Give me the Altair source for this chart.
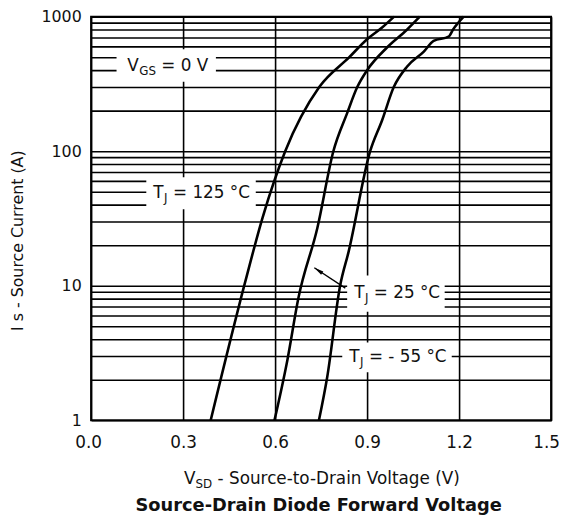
import altair as alt
import pandas as pd

# ---------------- data ----------------
series_names = ["TJ = 125 °C", "TJ = 25 °C", "TJ = -55 °C"]

v_125 = [0.39, 0.504, 0.559, 0.633, 0.744, 0.842, 0.90, 0.949, 0.988]
i_125 = [1, 11, 32, 100, 300, 500, 680, 830, 1000]

v_25 = [0.598, 0.64, 0.676, 0.738, 0.79, 0.835, 0.868, 0.90, 0.965, 1.03, 1.072]
i_25 = [1, 2.8, 8.1, 27, 100, 192, 300, 400, 590, 800, 1000]

v_m55 = [0.743, 0.77, 0.812, 0.84, 0.91, 0.949, 0.987, 1.03, 1.085, 1.117, 1.166, 1.18, 1.215]
i_m55 = [1, 2.1, 10, 18, 100, 170, 300, 425, 550, 660, 710, 800, 1000]

x_ticks = [0.0, 0.3, 0.6, 0.9, 1.2, 1.5]
y_grid = [1, 2, 3, 4, 5, 6, 7, 8, 9,
          10, 20, 30, 40, 50, 60, 70, 80, 90,
          100, 200, 300, 400, 500, 600, 700, 800, 900, 1000]
y_labels = [1, 10, 100, 1000]

# annotation labels (data coordinates of left edge / vertical centre)
label_main = ["V", "T", "T", "T"]
label_sub = ["GS", "J", "J", "J"]
label_rest = ["= 0 V", "= 125 °C", "= 25 °C", "= - 55 °C"]
label_v = [0.118, 0.203, 0.858, 0.842]
label_i = [430, 49, 8.8, 2.94]

# white boxes behind the labels (data coordinates)
box_v1 = [0.083, 0.18, 0.835, 0.819]
box_v2 = [0.407, 0.537, 1.153, 1.176]
box_i1 = [328, 37, 6.4, 2.28]
box_i2 = [573, 64, 11.9, 3.78]

# arrow from the 25 °C label to its curve
arrow_v_tail = [0.829]
arrow_i_tail = [9.6]
arrow_v_tip = [0.728]
arrow_i_tip = [13.6]

x_title_main = "V"
x_title_sub = "SD"
x_title_rest = "- Source-to-Drain Voltage (V)"
y_title = "I s - Source Current (A)"
chart_title = "Source-Drain Diode Forward Voltage"

# ---------------- styling ----------------
FONT = "DejaVu Sans"
INK = "#111111"
W, H = 465, 408
BIG, SMALL = 17, 12
CHAR_W = {"T": 0.611, "V": 0.684, "J": 0.295, "G": 0.775, "S": 0.635, "D": 0.77, " ": 0.318}


def text_w(s, size):
    return sum(CHAR_W.get(c, 0.6) for c in s) * size


rows = []
for name, vs, iss in zip(series_names, [v_125, v_25, v_m55], [i_125, i_25, i_m55]):
    for k, (v, i) in enumerate(zip(vs, iss)):
        rows.append({"series": name, "k": k, "v": v, "i": i})
curves = pd.DataFrame(rows)

boxes = pd.DataFrame({"v1": box_v1, "v2": box_v2, "i1": box_i1, "i2": box_i2})
arrow = pd.DataFrame({"vt": arrow_v_tail, "it": arrow_i_tail,
                      "vh": arrow_v_tip, "ih": arrow_i_tip})

xscale = alt.Scale(domain=[0, 1.5], nice=False, zero=False)
yscale = alt.Scale(type="log", domain=[1, 1000], nice=False)

x_axis = alt.Axis(
    values=x_ticks, format=".1f", grid=True, gridColor="#000000", gridWidth=1.6,
    ticks=False, domain=False, labelFont=FONT, labelFontSize=BIG, labelColor=INK,
    labelPadding=15, labelFlush=False, labelOverlap=False, title=None,
    labelOffset={"condition": [{"test": "datum.value == 1.5", "value": -5},
                               {"test": "datum.value == 0", "value": -3}],
                 "value": 0},
)
y_axis = alt.Axis(
    values=y_grid,
    labelExpr="indexof(%s, datum.value) >= 0 ? format(datum.value, 'd') : ''" % str(y_labels),
    grid=True, gridColor="#000000", gridWidth=1.6, ticks=False, domain=False,
    labelFont=FONT, labelFontSize=16, labelColor=INK, labelPadding=10,
    labelOverlap=False, labelFlush=False,
    title=y_title, titleFont=FONT, titleFontSize=16, titleFontWeight="normal",
    titleColor=INK, titleAngle=-90, titleX=-74, titleY=226,
    titleAlign="center", titleBaseline="middle",
)

X = lambda f: alt.X(f, type="quantitative", scale=xscale, axis=x_axis)
Y = lambda f: alt.Y(f, type="quantitative", scale=yscale, axis=y_axis)

rects = alt.Chart(boxes).mark_rect(color="white").encode(
    x=X("v1"), x2="v2", y=Y("i1"), y2="i2"
)

lines = alt.Chart(curves).mark_line(
    color="black", strokeWidth=2.6, interpolate="monotone"
).encode(x=X("v"), y=Y("i"), detail="series:N", order="k:Q")

arrow_line = alt.Chart(arrow).mark_rule(color="black", strokeWidth=1.4).encode(
    x=X("vt"), x2="vh", y=Y("it"), y2="ih"
)
arrow_head = alt.Chart(arrow).mark_point(
    shape="M0,0L0.5,2.4L-0.5,2.4Z", filled=True, size=64, angle=304,
    color="black", opacity=1
).encode(x=X("vh"), y=Y("ih"))

layers = [rects, lines, arrow_line, arrow_head]

SPACE = text_w(" ", BIG)
for m, s, r, v, i in zip(label_main, label_sub, label_rest, label_v, label_i):
    d = pd.DataFrame({"v": [v], "i": [i]})
    wm = text_w(m, BIG)
    ws = text_w(s, SMALL)
    common = dict(font=FONT, color=INK, align="left", baseline="middle")
    layers.append(alt.Chart(d).mark_text(text=m, fontSize=BIG, **common)
                  .encode(x=X("v"), y=Y("i")))
    layers.append(alt.Chart(d).mark_text(text=s, fontSize=SMALL, dx=wm + 0.5, dy=5, **common)
                  .encode(x=X("v"), y=Y("i")))
    layers.append(alt.Chart(d).mark_text(text=r, fontSize=BIG, dx=wm + ws + 0.5 + SPACE, **common)
                  .encode(x=X("v"), y=Y("i")))

one = pd.DataFrame({"a": [0]})
xt_x, xt_y = 94, 472
wm = text_w(x_title_main, BIG)
ws = text_w(x_title_sub, SMALL)
tcommon = dict(font=FONT, color=INK, align="left", baseline="alphabetic")
layers.append(alt.Chart(one).mark_text(text=x_title_main, fontSize=BIG, **tcommon)
              .encode(x=alt.value(xt_x), y=alt.value(xt_y)))
layers.append(alt.Chart(one).mark_text(text=x_title_sub, fontSize=SMALL, dy=4, **tcommon)
              .encode(x=alt.value(xt_x + wm), y=alt.value(xt_y)))
layers.append(alt.Chart(one).mark_text(text=x_title_rest, fontSize=BIG, **tcommon)
              .encode(x=alt.value(xt_x + wm + ws + SPACE), y=alt.value(xt_y)))
layers.append(alt.Chart(one).mark_text(text=chart_title, fontSize=18, fontWeight="bold",
                                       font=FONT, color=INK, align="center",
                                       baseline="alphabetic")
              .encode(x=alt.value(230), y=alt.value(500)))

chart = alt.layer(*layers).properties(
    width=W, height=H,
    autosize=alt.AutoSizeParams(type="none"),
    padding={"left": 84, "top": 6, "right": 8, "bottom": 97},
    background="white",
).configure_view(stroke="black", strokeWidth=2)

chart.save("out.html", embed_options={"renderer": "svg", "actions": False})
